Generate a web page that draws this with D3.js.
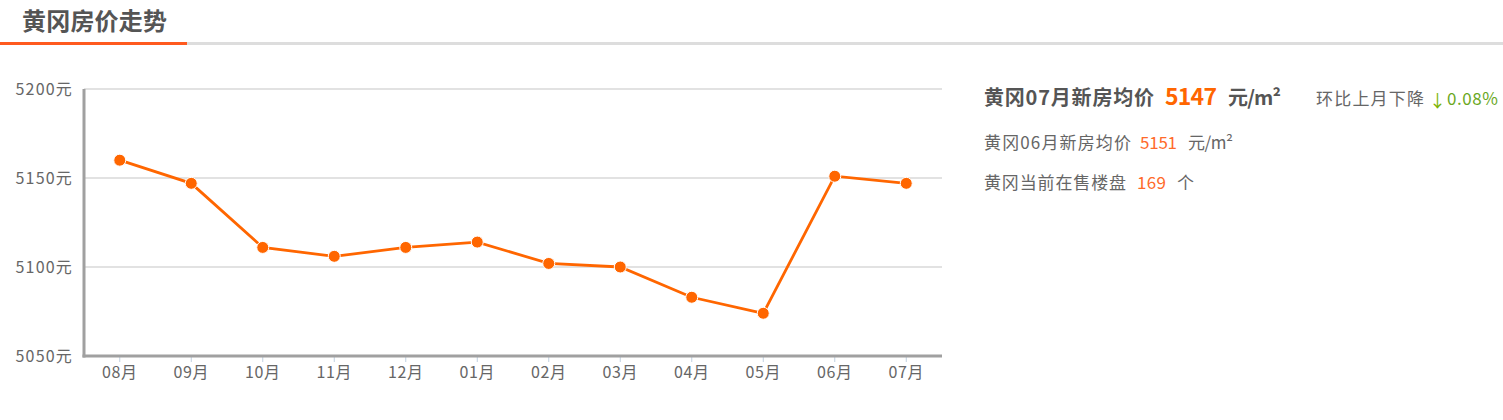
<!DOCTYPE html>
<html><head><meta charset="utf-8">
<script src="https://cdn.jsdelivr.net/npm/d3@7"></script>
<style>
body{margin:0;background:#fff;font-family:"Noto Sans CJK SC","Noto Sans",sans-serif;}
</style></head>
<body><svg id="c" width="1503" height="420"></svg>
<script>
const months = ["08月","09月","10月","11月","12月","01月","02月","03月","04月","05月","06月","07月"];
const prices = [5160,5147,5111,5106,5111,5114,5102,5100,5083,5074,5151,5147];
const yTicks = [5050,5100,5150,5200];
const yUnit = "元";
const title = "黄冈房价走势";
const currentMonth = "07月", currentPrice = 5147, prevMonth = "06月", prevPrice = 5151, onSale = 169, change = "0.08%";

(function(){
const svg = d3.select("#c");
const font = '"Noto Sans CJK SC","Noto Sans",sans-serif';

function txt(x, y, s, size, fill, opts={}){
  const t = svg.append("text").attr("x",x).attr("y",y).attr("font-size",size).attr("fill",fill)
    .attr("font-family",font).text(s);
  if(opts.bold) t.attr("font-weight","bold");
  if(opts.len) t.attr("textLength",opts.len).attr("lengthAdjust","spacing");
  if(opts.anchor) t.attr("text-anchor",opts.anchor);
  return t;
}

// header
txt(22,30,title,24,"#555",{bold:true,len:145});
svg.append("rect").attr("x",0).attr("y",42).attr("width",1503).attr("height",3).attr("fill","#dddddd");
svg.append("rect").attr("x",0).attr("y",42).attr("width",187).attr("height",3).attr("fill","#ff5a1f");

const pL=84, pR=942, pT=89, pB=356;
const x = d3.scaleBand().domain(months).range([pL,pR]);
const y = d3.scaleLinear().domain([5050,5200]).range([pB,pT]);

// grid
svg.append("g").selectAll("line").data(yTicks.filter(d=>d>5050)).join("line")
  .attr("x1",pL).attr("x2",pR).attr("y1",d=>y(d)).attr("y2",d=>y(d))
  .attr("stroke","#d8d8d8").attr("stroke-width",1.5);

// y labels
svg.append("g").selectAll("text").data(yTicks).join("text")
  .attr("x",73).attr("y",d=>y(d)+6).attr("text-anchor","end").attr("font-size",16)
  .attr("letter-spacing",1.2)
  .attr("fill","#666").attr("font-family",font).text(d=>d+yUnit);

// x ticks
svg.append("g").selectAll("line").data(months).join("line")
  .attr("x1",d=>x(d)+x.bandwidth()/2).attr("x2",d=>x(d)+x.bandwidth()/2)
  .attr("y1",pB).attr("y2",pB+6).attr("stroke","#c0d0e0").attr("stroke-width",1);
svg.append("g").selectAll("text").data(months).join("text")
  .attr("x",d=>x(d)+x.bandwidth()/2).attr("y",378).attr("text-anchor","middle").attr("font-size",16)
  .attr("letter-spacing",0.6)
  .attr("fill","#666").attr("font-family",font).text(d=>d);

// axes lines
svg.append("line").attr("x1",pL).attr("x2",pL).attr("y1",pT).attr("y2",pB+1.5)
  .attr("stroke","#a0a0a0").attr("stroke-width",3);
svg.append("line").attr("x1",pL-1.5).attr("x2",pR).attr("y1",pB).attr("y2",pB)
  .attr("stroke","#a0a0a0").attr("stroke-width",3);

// line
const line = d3.line().x((d,i)=>x(months[i])+x.bandwidth()/2).y(d=>y(d));
svg.append("path").datum(prices).attr("d",line).attr("fill","none")
  .attr("stroke","#ff6600").attr("stroke-width",2.8);
svg.append("g").selectAll("circle").data(prices).join("circle")
  .attr("cx",(d,i)=>x(months[i])+x.bandwidth()/2).attr("cy",d=>y(d)).attr("r",6)
  .attr("fill","#ff6600").attr("stroke","#fff").attr("stroke-width",1);

// right panel
txt(984,105,"黄冈"+currentMonth+"新房均价",20,"#555",{bold:true,len:170});
txt(1165,105,String(currentPrice),23,"#ff6600",{bold:true,len:52});
txt(1228,105,"元/m²",20,"#555",{bold:true,len:53});
txt(1316,105,"环比上月下降",17,"#666",{len:108});
txt(1429,107,"↓",17,"#7cb305");
txt(1447,105,change,17,"#6aa81e",{len:51});

txt(984,149,"黄冈"+prevMonth+"新房均价",17,"#666",{len:147});
txt(1140,149,String(prevPrice),17,"#ff6a2a",{len:37});
txt(1188,149,"元/m²",17,"#666",{len:45});

txt(984,189,"黄冈当前在售楼盘",17,"#666",{len:142});
txt(1137,189,String(onSale),17,"#ff6a2a",{len:29});
txt(1177,189,"个",17,"#666");
})();
</script></body></html>
